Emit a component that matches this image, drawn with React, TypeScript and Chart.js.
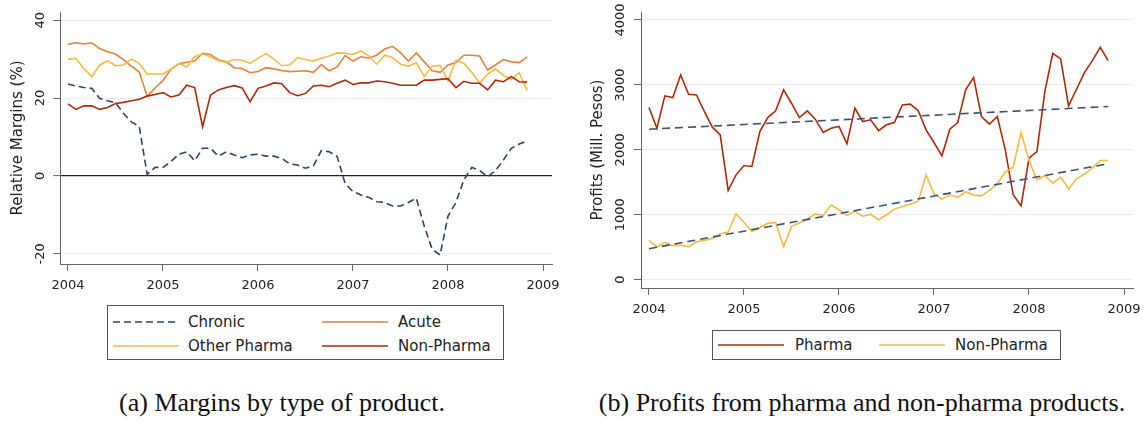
import React, { useEffect, useRef } from "react";
import { Chart, registerables } from "chart.js";

Chart.register(...registerables);

const FONT = "'DejaVu Sans', sans-serif";
const START_YEAR = 2004;

const yearTicks = [2004, 2005, 2006, 2007, 2008, 2009];
const marginTicks = [-20, 0, 20, 40];
const profitTicks = [0, 1000, 2000, 3000, 4000];

// Panel (a): monthly relative margins (%), Jan 2004 - Nov 2008
const chronic = [
  23.6, 23.1, 22.7, 22.5, 19.9, 19.3, 18.8, 16.1, 13.9, 12.7,
  0.4, 2.2, 2.2, 3.7, 5.6, 6.2, 3.9, 7.1, 7.1, 5.1,
  6.2, 5.4, 4.7, 5.4, 5.6, 5.1, 5.1, 4.5, 3.1, 2.8,
  2.0, 2.6, 6.5, 6.2, 5.0, -1.9, -4.0, -4.9, -5.5, -6.6,
  -6.8, -7.7, -7.7, -6.8, -5.7, -12.9, -18.8, -20.3, -10.3, -6.8,
  -1.0, 2.2, 1.4, -0.2, 1.4, 4.1, 7.1, 8.2, 9.0,
];
const acute = [
  33.8, 34.2, 33.9, 34.2, 32.7, 31.9, 31.3, 29.9, 28.2, 26.7,
  20.5, 22.6, 24.5, 27.4, 28.8, 29.2, 29.5, 31.5, 31.2, 29.8,
  29.3, 27.8, 27.6, 26.5, 26.8, 27.8, 27.5, 27.1, 26.8, 26.9,
  27.0, 26.6, 28.6, 27.0, 28.0, 30.9, 29.5, 30.6, 30.3, 31.0,
  32.6, 33.3, 31.7, 29.5, 31.6, 29.3, 27.0, 26.6, 28.5, 29.1,
  31.0, 31.0, 30.8, 27.2, 28.5, 29.9, 29.3, 29.1, 30.6,
];
const otherPharma = [
  30.0, 30.2, 27.6, 25.5, 28.5, 29.6, 28.3, 28.5, 30.0, 28.9,
  26.2, 26.2, 26.2, 27.4, 28.9, 28.0, 30.6, 31.3, 30.6, 29.6,
  29.2, 29.9, 29.7, 28.9, 30.2, 31.4, 30.0, 28.3, 28.5, 30.4,
  29.9, 29.5, 30.2, 30.8, 31.6, 31.5, 31.2, 32.1, 30.8, 28.7,
  31.0, 30.4, 28.7, 28.2, 29.1, 25.5, 28.2, 28.4, 24.4, 29.7,
  28.9, 26.6, 23.9, 26.1, 27.5, 25.8, 24.8, 26.5, 21.9,
];
const nonPharmaMargin = [
  18.5, 17.1, 18.0, 18.0, 17.1, 17.6, 18.6, 18.9, 19.3, 19.7,
  20.5, 20.9, 21.4, 20.3, 20.8, 23.3, 22.7, 12.6, 20.8, 22.1,
  22.7, 23.2, 22.6, 19.1, 22.5, 23.1, 23.9, 23.7, 21.4, 20.6,
  21.2, 23.1, 23.3, 22.9, 23.8, 24.6, 23.5, 23.9, 23.9, 24.4,
  24.2, 23.8, 23.3, 23.3, 23.3, 24.6, 24.6, 24.8, 25.0, 22.7,
  24.3, 23.8, 23.8, 22.1, 24.6, 24.2, 25.5, 24.2, 24.1,
];

// Panel (b): monthly profits (Mill. Pesos)
const pharmaProfit = [
  2651, 2333, 2831, 2805, 3154, 2856, 2846, 2590, 2349, 2231,
  1374, 1615, 1759, 1744, 2282, 2497, 2600, 2923, 2718, 2497,
  2600, 2472, 2267, 2333, 2359, 2092, 2641, 2436, 2462, 2297,
  2385, 2421, 2692, 2703, 2605, 2308, 2113, 1908, 2318, 2421,
  2923, 3113, 2513, 2395, 2513, 2000, 1308, 1138, 1872, 1974,
  2897, 3487, 3400, 2677, 2933, 3190, 3374, 3579, 3374,
];
const nonPharmaProfit = [
  605, 503, 574, 528, 528, 508, 585, 605, 636, 708,
  733, 1015, 882, 744, 805, 867, 882, 508, 821, 872,
  933, 1015, 990, 1149, 1077, 990, 1056, 974, 1010, 923,
  1000, 1087, 1128, 1164, 1205, 1615, 1323, 1241, 1308, 1267,
  1354, 1303, 1292, 1374, 1477, 1656, 1733, 2267, 1836, 1538,
  1605, 1487, 1579, 1400, 1554, 1626, 1718, 1836, 1836,
];
// Fitted linear trends: values at the first and last month
const trendMonths = [0, 58];
const pharmaTrend = [2318, 2667];
const nonPharmaTrend = [477, 1785];

const C_CHRONIC = "#2a4668";
const C_ACUTE = "#e3823a";
const C_OTHER = "#f4ba42";
const C_NONPH = "#ac2a0c";
const C_TREND = "#3d5375";
const AXIS = "#666666";
const GRID = "#e8eef0";
const TEXT = "#222222";

const toPoints = (vals: number[]) =>
  vals.map((v, i) => ({ x: START_YEAR + i / 12, y: v }));
const toTrend = (vals: number[]) =>
  vals.map((v, k) => ({ x: START_YEAR + trendMonths[k] / 12, y: v }));

function line(label: string, data: any[], color: string, dash: number[] = [], order = 0) {
  return {
    label,
    data,
    borderColor: color,
    backgroundColor: color,
    borderWidth: 1.6,
    borderDash: dash,
    pointRadius: 0,
    tension: 0,
    fill: false,
    order,
  };
}

function makeOptions(cfg: {
  yMin: number;
  yMax: number;
  yTicks: number[];
  yTitle: string;
  yWidth: number;
  xHeight: number;
  padRight: number;
  yTickPad: number;
  zeroLine: boolean;
}) {
  return {
    responsive: false,
    animation: false as const,
    events: [],
    layout: { padding: { top: 12, right: cfg.padRight, left: 0, bottom: 0 } },
    plugins: { legend: { display: false }, tooltip: { enabled: false } },
    scales: {
      x: {
        type: "linear" as const,
        min: 2004 - 8 / 95,
        max: 2009 + 9 / 95,
        afterBuildTicks: (s: any) => {
          s.ticks = yearTicks.map((v) => ({ value: v }));
        },
        afterFit: (s: any) => {
          s.height = cfg.xHeight;
          s.paddingLeft = 0;
          s.paddingRight = 0;
        },
        ticks: {
          callback: (v: any) => String(v),
          font: { family: FONT, size: 13 },
          color: TEXT,
          padding: 7,
          maxRotation: 0,
          autoSkip: false,
        },
        grid: {
          drawOnChartArea: false,
          drawTicks: true,
          tickLength: 7,
          tickColor: AXIS,
          tickWidth: 1,
        },
        border: { display: true, color: AXIS, width: 1 },
      },
      y: {
        type: "linear" as const,
        min: cfg.yMin,
        max: cfg.yMax,
        afterBuildTicks: (s: any) => {
          s.ticks = cfg.yTicks.map((v) => ({ value: v }));
        },
        afterFit: (s: any) => {
          s.width = cfg.yWidth;
          s.paddingTop = 0;
          s.paddingBottom = 0;
        },
        ticks: {
          callback: (v: any) => String(v),
          font: { family: FONT, size: 13 },
          color: TEXT,
          minRotation: 90,
          maxRotation: 90,
          crossAlign: "center" as const,
          padding: cfg.yTickPad,
        },
        title: {
          display: true,
          text: cfg.yTitle,
          font: { family: FONT, size: 15 },
          color: TEXT,
          padding: { top: 9, bottom: 0 },
        },
        grid: {
          drawOnChartArea: true,
          drawTicks: true,
          tickLength: 7,
          tickColor: AXIS,
          tickWidth: 1,
          color: (ctx: any) =>
            cfg.zeroLine && ctx.tick && ctx.tick.value === 0 ? "#222222" : GRID,
          lineWidth: (ctx: any) =>
            cfg.zeroLine && ctx.tick && ctx.tick.value === 0 ? 1.2 : 1,
        },
        border: { display: true, color: AXIS, width: 1 },
      },
    },
  };
}

function LegendSample({ color, dash }: { color: string; dash?: boolean }) {
  return (
    <svg width={66} height={4} style={{ display: "block" }}>
      <line
        x1={0}
        y1={2}
        x2={66}
        y2={2}
        stroke={color}
        strokeWidth={1.6}
        strokeDasharray={dash ? "7 4" : undefined}
      />
    </svg>
  );
}

function LegendEntry(props: {
  x: number;
  y: number;
  tx: number;
  label: string;
  color: string;
  dash?: boolean;
}) {
  return (
    <>
      <div style={{ position: "absolute", left: props.x, top: props.y - 2 }}>
        <LegendSample color={props.color} dash={props.dash} />
      </div>
      <div
        style={{
          position: "absolute",
          left: props.tx,
          top: props.y - 10,
          height: 20,
          lineHeight: "20px",
          fontFamily: FONT,
          fontSize: 15,
          color: TEXT,
          whiteSpace: "nowrap",
        }}
      >
        {props.label}
      </div>
    </>
  );
}

export default function App() {
  const leftRef = useRef<HTMLCanvasElement>(null);
  const rightRef = useRef<HTMLCanvasElement>(null);

  useEffect(() => {
    const left = new Chart(leftRef.current as HTMLCanvasElement, {
      type: "line",
      data: {
        datasets: [
          line("Non-Pharma", toPoints(nonPharmaMargin), C_NONPH, [], 0),
          line("Other Pharma", toPoints(otherPharma), C_OTHER, [], 1),
          line("Acute", toPoints(acute), C_ACUTE, [], 2),
          line("Chronic", toPoints(chronic), C_CHRONIC, [7, 4], 3),
        ],
      },
      options: makeOptions({
        yMin: -22.6,
        yMax: 42.1,
        yTicks: marginTicks,
        yTitle: "Relative Margins (%)",
        yWidth: 60,
        xHeight: 36,
        padRight: 8,
        yTickPad: 2,
        zeroLine: true,
      }) as any,
    });
    const right = new Chart(rightRef.current as HTMLCanvasElement, {
      type: "line",
      data: {
        datasets: [
          line("Pharma trend", toTrend(pharmaTrend), C_TREND, [8, 5], 0),
          line("Non-Pharma trend", toTrend(nonPharmaTrend), C_TREND, [8, 5], 1),
          line("Non-Pharma", toPoints(nonPharmaProfit), C_OTHER, [], 2),
          line("Pharma", toPoints(pharmaProfit), C_NONPH, [], 3),
        ],
      },
      options: makeOptions({
        yMin: -128,
        yMax: 4123,
        yTicks: profitTicks,
        yTitle: "Profits (Mill. Pesos)",
        yWidth: 61,
        xHeight: 32,
        padRight: 10,
        yTickPad: -3,
        zeroLine: false,
      }) as any,
    });
    return () => {
      left.destroy();
      right.destroy();
    };
  }, []);

  const caption = {
    position: "absolute" as const,
    top: 388,
    height: 30,
    lineHeight: "30px",
    fontFamily: "'Liberation Serif', serif",
    fontSize: 26,
    color: "#111",
    textAlign: "center" as const,
    whiteSpace: "nowrap" as const,
  };

  return (
    <div
      style={{
        position: "absolute",
        left: 0,
        top: 0,
        width: 1143,
        height: 422,
        background: "#ffffff",
        overflow: "hidden",
      }}
    >
      <canvas
        ref={leftRef}
        width={560}
        height={300}
        style={{ position: "absolute", left: 0, top: 0 }}
      />
      <canvas
        ref={rightRef}
        width={563}
        height={320}
        style={{ position: "absolute", left: 580, top: 0 }}
      />

      <div
        style={{
          position: "absolute",
          left: 107,
          top: 305,
          width: 395,
          height: 53,
          border: "1px solid #555",
        }}
      />
      <LegendEntry x={113} y={322} tx={188} label="Chronic" color={C_CHRONIC} dash />
      <LegendEntry x={322} y={322} tx={398} label="Acute" color={C_ACUTE} />
      <LegendEntry x={113} y={346} tx={188} label="Other Pharma" color={C_OTHER} />
      <LegendEntry x={322} y={346} tx={398} label="Non-Pharma" color={C_NONPH} />

      <div
        style={{
          position: "absolute",
          left: 712,
          top: 330,
          width: 347,
          height: 28,
          border: "1px solid #555",
        }}
      />
      <LegendEntry x={718} y={345} tx={795} label="Pharma" color={C_NONPH} />
      <LegendEntry x={879} y={345} tx={955} label="Non-Pharma" color={C_OTHER} />

      <div style={{ ...caption, left: 82, width: 400 }}>(a) Margins by type of product.</div>
      <div style={{ ...caption, left: 562, width: 600 }}>
        (b) Profits from pharma and non-pharma products.
      </div>
    </div>
  );
}
